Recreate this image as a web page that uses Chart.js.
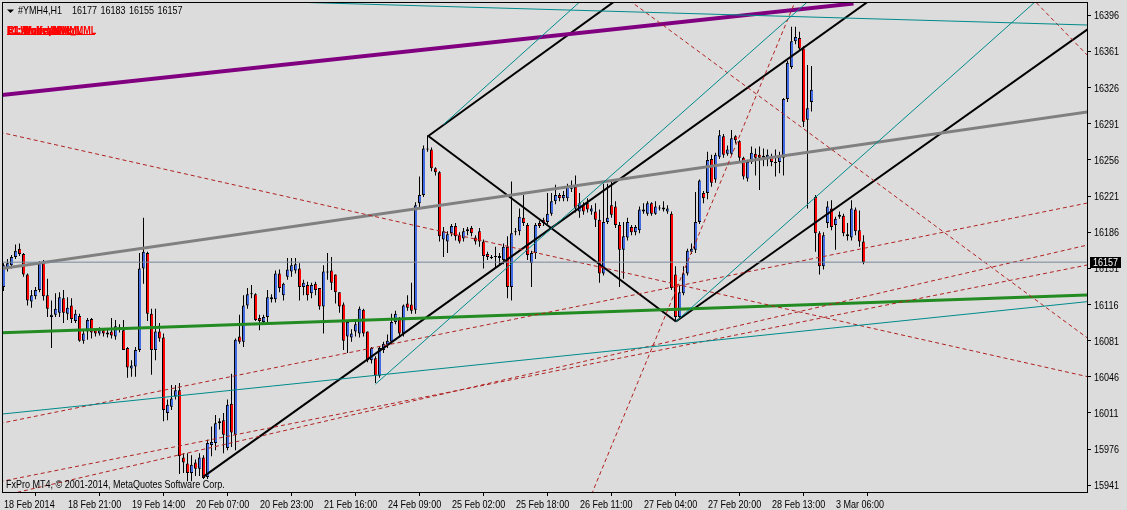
<!DOCTYPE html>
<html>
<head>
<meta charset="utf-8">
<title>#YMH4,H1</title>
<script src="https://cdn.jsdelivr.net/npm/chart.js@4.4.1/dist/chart.umd.min.js"></script>
<style>
    html, body { margin: 0; padding: 0; background: #dcdcdc; }
    #chartBox { width: 1127px; height: 510px; }
</style>
</head>
<body>
<div id="chartBox"><canvas id="priceChart" width="1127" height="510"></canvas></div>
<script>
// ---- data (hourly bars, bar 0 = 18 Feb 2014) ----
const symbol = '#YMH4,H1';
const lastQuote = [16177, 16183, 16155, 16157];
const bidPrice = 16157;

const opens = [
    16133, 16152, 16154, 16162, 16170, 16165, 16145, 16119, 16124, 16130,
    16156, 16125, 16104, 16106, 16108, 16122, 16107, 16115, 16100, 16105,
    16081, 16090, 16102, 16091, 16088, 16091, 16089, 16090, 16085, 16092,
    16091, 16074, 16054, 16056, 16072, 16151, 16166, 16107, 16072, 16090,
    16084, 16011, 16017, 16027, 16033, 15968, 15962, 15953, 15963, 15957,
    15968, 15949, 15980, 15982, 16001, 16004, 15977, 16020, 15990, 16085,
    16080, 16115, 16126, 16126, 16103, 16099, 16104, 16123, 16121, 16146,
    16125, 16143, 16148, 16149, 16151, 16133, 16135, 16127, 16136, 16132,
    16114, 16148, 16149, 16145, 16128, 16116, 16085, 16084, 16090, 16088,
    16111, 16090, 16062, 16064, 16047, 16072, 16077, 16080, 16099, 16102,
    16088, 16117, 16116, 16111, 16214, 16222, 16267, 16266, 16248, 16244,
    16179, 16177, 16185, 16192, 16183, 16180, 16189, 16190, 16181, 16187,
    16177, 16165, 16162, 16163, 16163, 16159, 16172, 16133, 16186, 16187,
    16200, 16193, 16156, 16166, 16195, 16198, 16196, 16204, 16216, 16222,
    16219, 16219, 16228, 16230, 16206, 16212, 16214, 16206, 16206, 16198,
    16146, 16196, 16212, 16211, 16193, 16169, 16181, 16191, 16186, 16188,
    16208, 16204, 16214, 16204, 16210, 16208, 16206, 16204, 16145, 16104,
    16127, 16146, 16167, 16169, 16196, 16224, 16224, 16257, 16237, 16259,
    16279, 16262, 16262, 16279, 16274, 16258, 16238, 16254, 16262, 16261,
    16258, 16258, 16259, 16254, 16254, 16258, 16315, 16346, 16371, 16374,
    16364, 16295, 16312, 16220, 16185, 16153, 16195, 16209, 16193, 16203,
    16202, 16184, 16181, 16208, 16188, 16177
];
const highs = [
    16156, 16160, 16164, 16174, 16175, 16166, 16146, 16130, 16133, 16158,
    16159, 16141, 16120, 16127, 16128, 16130, 16123, 16122, 16111, 16107,
    16091, 16103, 16103, 16093, 16094, 16093, 16093, 16103, 16101, 16097,
    16101, 16075, 16062, 16075, 16166, 16200, 16167, 16112, 16112, 16098,
    16088, 16024, 16038, 16038, 16040, 15972, 15972, 15970, 15966, 15972,
    15970, 15985, 15998, 16009, 16006, 16011, 16024, 16049, 16083, 16106,
    16125, 16132, 16135, 16127, 16106, 16106, 16130, 16126, 16149, 16150,
    16137, 16161, 16161, 16161, 16156, 16140, 16138, 16137, 16138, 16132,
    16154, 16166, 16162, 16145, 16128, 16118, 16101, 16092, 16101, 16114,
    16112, 16090, 16075, 16066, 16075, 16080, 16087, 16107, 16110, 16104,
    16116, 16125, 16137, 16215, 16240, 16270, 16280, 16268, 16249, 16245,
    16191, 16187, 16194, 16195, 16186, 16190, 16191, 16192, 16183, 16190,
    16179, 16167, 16164, 16172, 16166, 16175, 16182, 16235, 16190, 16209,
    16222, 16195, 16168, 16195, 16197, 16200, 16224, 16224, 16232, 16224,
    16226, 16233, 16236, 16241, 16224, 16215, 16219, 16212, 16214, 16208,
    16233, 16233, 16235, 16216, 16196, 16196, 16200, 16193, 16193, 16211,
    16214, 16216, 16215, 16216, 16212, 16216, 16212, 16206, 16153, 16135,
    16153, 16170, 16175, 16225, 16237, 16226, 16264, 16261, 16263, 16285,
    16281, 16270, 16285, 16280, 16275, 16259, 16256, 16269, 16267, 16269,
    16267, 16266, 16262, 16266, 16264, 16316, 16352, 16385, 16385, 16380,
    16366, 16348, 16347, 16222, 16187, 16186, 16216, 16217, 16201, 16206,
    16204, 16195, 16217, 16210, 16207, 16183
];
const lows = [
    16129, 16148, 16151, 16160, 16163, 16143, 16115, 16113, 16121, 16128,
    16120, 16104, 16074, 16104, 16104, 16098, 16101, 16098, 16098, 16080,
    16078, 16082, 16083, 16085, 16086, 16085, 16084, 16083, 16082, 16089,
    16072, 16045, 16046, 16046, 16070, 16136, 16100, 16048, 16062, 16080,
    16003, 16004, 16014, 16024, 15952, 15953, 15945, 15945, 15950, 15950,
    15947, 15947, 15969, 15975, 15995, 15972, 15975, 15978, 15975, 16078,
    16075, 16112, 16122, 16100, 16091, 16097, 16098, 16118, 16118, 16128,
    16120, 16140, 16143, 16146, 16120, 16125, 16120, 16122, 16125, 16111,
    16088, 16140, 16130, 16117, 16108, 16072, 16069, 16080, 16085, 16084,
    16085, 16060, 16059, 16040, 16045, 16069, 16074, 16078, 16097, 16084,
    16085, 16110, 16107, 16107, 16210, 16220, 16264, 16245, 16241, 16177,
    16162, 16166, 16182, 16178, 16175, 16177, 16183, 16182, 16174, 16172,
    16151, 16159, 16160, 16152, 16154, 16155, 16122, 16120, 16183, 16183,
    16192, 16159, 16133, 16160, 16190, 16192, 16194, 16202, 16213, 16216,
    16216, 16216, 16225, 16205, 16200, 16203, 16205, 16203, 16191, 16137,
    16144, 16194, 16200, 16190, 16133, 16141, 16178, 16183, 16183, 16185,
    16204, 16202, 16202, 16203, 16207, 16206, 16204, 16130, 16100, 16103,
    16125, 16144, 16165, 16166, 16194, 16214, 16218, 16230, 16234, 16257,
    16258, 16260, 16260, 16272, 16255, 16237, 16235, 16252, 16241, 16227,
    16250, 16250, 16250, 16240, 16243, 16241, 16312, 16344, 16368, 16362,
    16288, 16209, 16303, 16167, 16145, 16150, 16190, 16188, 16169, 16199,
    16182, 16178, 16178, 16183, 16172, 16155
];
const closes = [
    16154, 16156, 16162, 16168, 16165, 16145, 16120, 16125, 16130, 16156,
    16124, 16112, 16106, 16112, 16123, 16108, 16113, 16102, 16107, 16081,
    16088, 16101, 16089, 16088, 16091, 16088, 16087, 16086, 16095, 16094,
    16072, 16055, 16057, 16072, 16151, 16167, 16107, 16072, 16090, 16083,
    16014, 16019, 16025, 16033, 15969, 15963, 15953, 15961, 15957, 15968,
    15948, 15982, 15983, 16001, 16003, 15990, 16019, 15992, 16082, 16080,
    16115, 16126, 16127, 16101, 16100, 16104, 16123, 16121, 16146, 16132,
    16136, 16150, 16154, 16155, 16133, 16137, 16125, 16135, 16130, 16114,
    16148, 16147, 16137, 16128, 16114, 16081, 16099, 16088, 16097, 16112,
    16088, 16062, 16074, 16047, 16074, 16078, 16081, 16099, 16107, 16088,
    16115, 16113, 16110, 16212, 16222, 16267, 16266, 16248, 16244, 16182,
    16187, 16184, 16192, 16182, 16177, 16187, 16187, 16185, 16177, 16177,
    16163, 16162, 16161, 16162, 16161, 16172, 16133, 16185, 16187, 16201,
    16195, 16164, 16166, 16193, 16192, 16195, 16204, 16216, 16222, 16219,
    16222, 16230, 16231, 16209, 16214, 16206, 16208, 16209, 16198, 16146,
    16196, 16200, 16203, 16193, 16169, 16182, 16196, 16186, 16191, 16208,
    16206, 16214, 16204, 16211, 16209, 16210, 16209, 16132, 16104, 16128,
    16146, 16168, 16170, 16196, 16236, 16219, 16256, 16234, 16261, 16280,
    16261, 16266, 16277, 16275, 16258, 16240, 16254, 16263, 16258, 16258,
    16260, 16261, 16254, 16253, 16259, 16315, 16350, 16371, 16375, 16364,
    16293, 16306, 16324, 16185, 16153, 16183, 16211, 16191, 16199, 16201,
    16185, 16182, 16209, 16187, 16177, 16157
];

// time axis: one label every 16 bars
const timeLabels = [
    '18 Feb 2014', '18 Feb 21:00', '19 Feb 14:00', '20 Feb 07:00', '20 Feb 23:00',
    '21 Feb 16:00', '24 Feb 09:00', '25 Feb 02:00', '25 Feb 18:00', '26 Feb 11:00',
    '27 Feb 04:00', '27 Feb 20:00', '28 Feb 13:00', '3 Mar 06:00'
];
const timeTickBars = [0, 16, 32, 48, 64, 80, 96, 112, 128, 144, 160, 176, 192, 208];

const priceTicks = [16396, 16361, 16326, 16291, 16256, 16221, 16186, 16151,
                    16116, 16081, 16046, 16011, 15976, 15941];

// trendline anchors as [bar, price]
const purpleLine = [[-1, 16318.6], [212.5, 16407.4]];
const grayLine   = [[-1, 16150.5], [272, 16303]];
const greenLine  = [[-1, 16088.6], [272, 16125.3]];
const blackA = [[50, 15949.4], [220, 16420]];
const blackB = [[106.2, 16279.2], [160, 16429.8]];
const blackC = [[106.2, 16279.2], [168.1, 16099.6]];
const blackD = [[168.1, 16099.6], [272, 16385.2]];
const tealT1 = [[93, 16039], [205, 16422.8]];
const tealT2 = [[168.1, 16099.6], [265, 16433.5]];
const tealT3 = [[-1, 16009.7], [272, 16119.2]];
const tealT4 = [[60, 16410.2], [272, 16386.5]];
const tealT5 = [[110, 16290.3], [150, 16429.7]];
const redR1 = [[-1, 16282.9], [272, 16045.3]];
const redR2 = [[-1, 16000.8], [272, 16215.1]];
const redR4 = [[145, 15913.4], [200, 16429]];
const redR5 = [[257, 16413], [272, 16353.3]];
const redR6 = [[155, 16414.6], [272, 16080.7]];
const redR7 = [[0, 15931.1], [272, 16174.5]];
const redR8 = [[-1, 15944.4], [272, 16155.1]];
const bidLine = [[-1, bidPrice], [272, bidPrice]];

// ---- chart ----
const FONT = "'Liberation Sans', Arial, sans-serif";
const BULL = '#4169e1';
const BEAR = '#ff0000';
const TEAL = '#008b8b';
const DASHRED = '#b22222';

const barIdx = opens.map((_, i) => i);
const wickData = barIdx.map(i => ({ x: i, y: [lows[i], highs[i]] }));
const bodyData = barIdx.map(i => ({ x: i, y: [Math.min(opens[i], closes[i]), Math.max(opens[i], closes[i])] }));
const bodyColors = barIdx.map(i => (closes[i] >= opens[i] ? BULL : BEAR));

function trend(points, color, width, dash) {
    return {
        type: 'line',
        data: points.map(([x, y]) => ({ x, y })),
        borderColor: color,
        borderWidth: width,
        borderDash: dash || [],
        pointRadius: 0,
        fill: false,
        tension: 0,
        clip: 0,
        order: 0,
    };
}

// MT4 uses a narrow sans; squeeze Liberation Sans to about Arial Narrow width
function narrowText(ctx, text, x, y) {
    ctx.save();
    ctx.translate(x, y);
    ctx.scale(0.82, 1);
    ctx.fillText(text, 0, 0);
    ctx.restore();
}

const background = {
    id: 'background',
    beforeDraw(chart) {
        const ctx = chart.ctx;
        ctx.save();
        ctx.fillStyle = '#dcdcdc';
        ctx.fillRect(0, 0, chart.width, chart.height);
        ctx.restore();
    },
};

const overlay = {
    id: 'overlay',
    afterDraw(chart) {
        const ctx = chart.ctx;
        const area = chart.chartArea;
        const xs = chart.scales.x;
        const ys = chart.scales.y;
        ctx.save();

        // frame
        ctx.strokeStyle = '#000';
        ctx.lineWidth = 1;
        ctx.strokeRect(area.left + 0.5, area.top + 0.5, area.right - area.left, area.bottom - area.top);

        ctx.textAlign = 'left';
        ctx.font = '11px ' + FONT;

        // axis labels at the scale's tick positions
        ctx.fillStyle = '#000';
        ctx.textBaseline = 'alphabetic';
        xs.ticks.forEach(t => {
            const label = timeLabels[timeTickBars.indexOf(t.value)];
            narrowText(ctx, label, Math.round(xs.getPixelForValue(t.value)), 508);
        });
        ctx.textBaseline = 'middle';
        ys.ticks.forEach(t => {
            narrowText(ctx, String(t.value), area.right + 7, Math.round(ys.getPixelForValue(t.value)) + 0.5);
        });

        // header: triangle + symbol + OHLC
        ctx.beginPath();
        ctx.moveTo(7, 9.5);
        ctx.lineTo(14, 9.5);
        ctx.lineTo(10.5, 13);
        ctx.closePath();
        ctx.fill();
        ctx.textBaseline = 'alphabetic';
        narrowText(ctx, symbol, 18, 14);
        lastQuote.forEach((q, k) => narrowText(ctx, String(q), 72 + k * 28.5, 14));

        // overlapping indicator labels (garbled in the original)
        ctx.fillStyle = '#ff0000';
        ctx.font = 'bold 11px ' + FONT;
        ['F1:\\WolfeWave_MML', '#1:Andrews MML', 'E1:\\MurrayMath', 'R1:Wolfe  MML'].forEach((t, k) => {
            narrowText(ctx, t, 7 + (k % 2), 34);
        });
        ctx.fillRect(7, 34, 88, 1);

        // copyright
        ctx.fillStyle = '#000';
        ctx.font = '11px ' + FONT;
        narrowText(ctx, 'FxPro MT4, \u00a9 2001-2014, MetaQuotes Software Corp.', 6, 488);

        // bid price box on the axis
        const py = Math.round(ys.getPixelForValue(bidPrice));
        ctx.fillRect(area.right + 3, py - 5, 31, 11);
        ctx.fillStyle = '#fff';
        ctx.textBaseline = 'middle';
        narrowText(ctx, String(bidPrice), area.right + 6, py + 0.5);
        ctx.restore();
    },
};

new Chart(document.getElementById('priceChart'), {
    type: 'bar',
    data: {
        datasets: [
            trend(bidLine, '#778899', 1),
            trend(tealT3, TEAL, 1),
            trend(tealT4, TEAL, 1),
            trend(tealT1, TEAL, 1),
            trend(tealT2, TEAL, 1),
            trend(tealT5, TEAL, 1),
            trend(redR1, DASHRED, 1, [4, 3]),
            trend(redR2, DASHRED, 1, [4, 3]),
            trend(redR4, DASHRED, 1, [4, 3]),
            trend(redR5, DASHRED, 1, [4, 3]),
            trend(redR6, DASHRED, 1, [4, 3]),
            trend(redR7, DASHRED, 1, [4, 3]),
            trend(redR8, DASHRED, 1, [4, 3]),
            trend(grayLine, '#808080', 3),
            trend(greenLine, '#228b22', 3),
            trend(purpleLine, '#800080', 4),
            trend(blackA, '#000', 2),
            trend(blackB, '#000', 2),
            trend(blackC, '#000', 2),
            trend(blackD, '#000', 2),
            {
                type: 'bar',
                data: bodyData,
                backgroundColor: bodyColors,
                borderColor: '#000',
                borderWidth: { left: 1, right: 0, top: 1, bottom: 1 },
                borderSkipped: false,
                barThickness: 3,
                inflateAmount: 0,
                grouped: false,
                order: 1,
            },
            {
                type: 'bar',
                data: wickData,
                backgroundColor: '#000',
                borderWidth: 0,
                barThickness: 1,
                inflateAmount: 0,
                grouped: false,
                order: 2,
            },
        ],
    },
    options: {
        responsive: false,
        animation: false,
        devicePixelRatio: 1,
        layout: { padding: { left: 2, top: 2, right: 0, bottom: 0 } },
        plugins: { legend: { display: false }, tooltip: { enabled: false } },
        scales: {
            x: {
                type: 'linear',
                position: 'bottom',
                min: -0.375,
                max: 270.875,
                offset: false,
                afterBuildTicks: s => { s.ticks = timeTickBars.map(v => ({ value: v })); },
                afterFit: s => { s.height = 18; s.paddingLeft = 0; s.paddingRight = 0; },
                ticks: { display: false, autoSkip: false, maxRotation: 0 },
                grid: { drawOnChartArea: false, drawTicks: true, tickLength: 4, color: '#000' },
                border: { display: false },
            },
            y: {
                type: 'linear',
                position: 'right',
                min: 15934.5,
                max: 16408.9,
                afterBuildTicks: s => { s.ticks = priceTicks.map(v => ({ value: v })); },
                afterFit: s => { s.width = 40; s.paddingTop = 0; s.paddingBottom = 0; },
                ticks: { display: false },
                grid: { drawOnChartArea: false, drawTicks: true, tickLength: 4, color: '#000' },
                border: { display: false },
            },
        },
    },
    plugins: [background, overlay],
});
</script>
</body>
</html>
